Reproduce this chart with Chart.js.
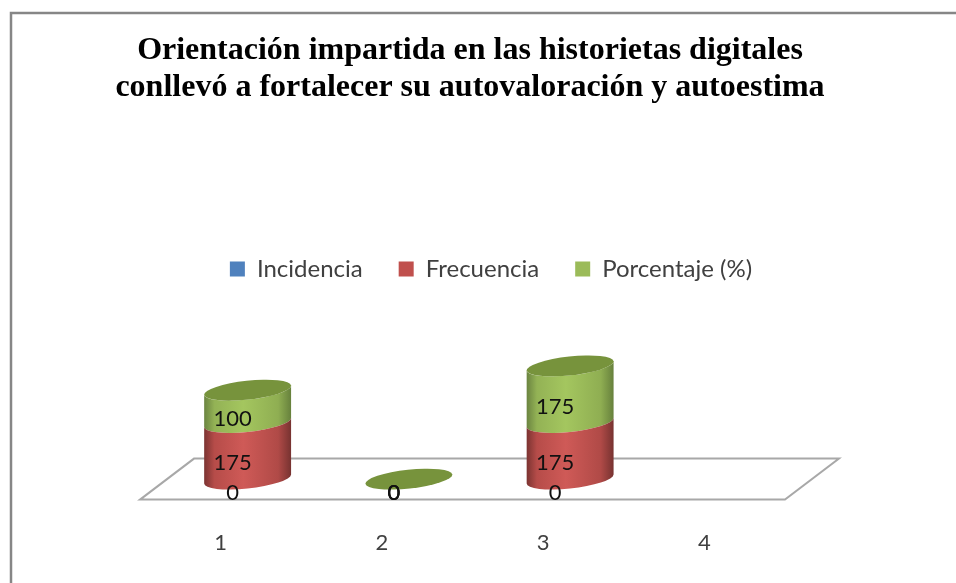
<!DOCTYPE html>
<html><head><meta charset="utf-8">
<style>html,body{margin:0;padding:0;background:#fff;overflow:hidden}canvas{display:block}</style>
<script src="https://cdn.jsdelivr.net/npm/chart.js@4"></script>
</head><body>
<canvas id="c" width="956" height="583"></canvas>
<script>
const categories = ['1','2','3','4'];
const incidencia = [0,0,0,null];
const frecuencia = [175,0,175,null];
const porcentaje = [100,0,175,null];
const titleLines = ['Orientación impartida en las historietas digitales','conllevó a fortalecer su autovaloración y autoestima'];

const DX=54, DY=41, RX=43.7, RY=9.4, TH=-6.2*Math.PI/180;
const T0=Math.atan(-(RY/RX)*Math.tan(TH));
const shades={
 'Frecuencia':['#7a3331','#b64c49','#cf5a57','#b04a47','#763230'],
 'Porcentaje (%)':['#6a8340','#93b255','#a4c65f','#8fae52','#66803c'],
 'Incidencia':['#33557f','#4a7ab4','#5688c4','#4876ad','#30517a']
};
const cyl={
 id:'cyl',
 afterLayout(ch){
   ch.titleBlock.left=0; ch.titleBlock.right=940;
   ch.legend.left+=28.5; ch.legend.right+=28.5;
 },
 beforeDraw(ch){
   const c=ch.ctx; c.save();
   c.fillStyle='#fff'; c.fillRect(0,0,ch.width,ch.height);
   c.strokeStyle='#868686'; c.lineWidth=2.5;
   c.beginPath(); c.moveTo(11,ch.height); c.lineTo(11,13); c.lineTo(ch.width,13); c.stroke();
   c.restore();
 },
 beforeDatasetsDraw(ch){
   const c=ch.ctx,a=ch.chartArea; c.save();
   c.strokeStyle='#a8a8a8'; c.lineWidth=2;
   c.beginPath(); c.moveTo(a.left,a.bottom); c.lineTo(a.left+DX,a.bottom-DY); c.lineTo(a.right+DX,a.bottom-DY); c.lineTo(a.right,a.bottom); c.closePath(); c.stroke();
   c.restore();
 },
 beforeDatasetDraw(ch,args){
   const c=ch.ctx, ds=ch.data.datasets[args.index];
   const els=ch.getDatasetMeta(args.index).data;
   els.forEach((el,i)=>{
     if(ds.data[i]==null) return;
     const cx=el.x+DX/2, yb=el.base-DY/2, yt=el.y-DY/2;
     if(yb-yt>0.5){
       const g=c.createLinearGradient(cx-RX,0,cx+RX,0);
       const s=shades[ds.label];
       g.addColorStop(0,s[0]);g.addColorStop(0.12,s[1]);g.addColorStop(0.45,s[2]);g.addColorStop(0.85,s[3]);g.addColorStop(1,s[4]);
       c.fillStyle=g;
       c.beginPath();
       c.ellipse(cx,yb,RX,RY,TH,T0,Math.PI+T0,false);
       c.ellipse(cx,yt,RX,RY,TH,Math.PI+T0,T0,true);
       c.closePath(); c.fill();
     }
     if(args.index===ch.data.datasets.length-1){
       c.fillStyle='#77933c';
       c.beginPath(); c.ellipse(cx,yt,RX,RY,TH,0,Math.PI*2); c.fill();
     }
   });
   return false;
 },
 afterDatasetsDraw(ch){
   const c=ch.ctx; c.save();
   c.fillStyle='#111'; c.font='22px Lato'; c.textAlign='center'; c.textBaseline='middle';
   ch.data.datasets.forEach((ds,di)=>{
     ch.getDatasetMeta(di).data.forEach((el,i)=>{
       const v=ds.data[i]; if(v==null) return;
       const dy = v===0?-6.5:-8;
       c.fillText(String(v),el.x+12,(el.y+el.base)/2+dy);
     });
   });
   c.restore();
 }
};
new Chart(document.getElementById('c'),{
 type:'bar',
 data:{labels:categories,datasets:[
  {label:'Incidencia',data:incidencia,backgroundColor:'#4f81bd'},
  {label:'Frecuencia',data:frecuencia,backgroundColor:'#c0504d'},
  {label:'Porcentaje (%)',data:porcentaje,backgroundColor:'#9bbb59'}
 ]},
 plugins:[cyl],
 options:{
  responsive:false,animation:false,
  layout:{padding:{left:140,right:171,top:32,bottom:5}},
  datasets:{bar:{categoryPercentage:1,barPercentage:0.547}},
  plugins:{
   title:{display:true,text:titleLines,color:'#000',font:{family:'"Liberation Serif"',size:32,weight:'bold',lineHeight:1.156},padding:{top:0,bottom:115}},
   legend:{display:true,position:'top',labels:{boxWidth:15,boxHeight:15,padding:36,color:'#404040',font:{family:'Lato',size:24}}},
   tooltip:{enabled:false}
  },
  scales:{
   x:{stacked:true,grid:{display:false},border:{display:false},ticks:{padding:22,color:'#404040',font:{family:'Lato',size:22}}},
   y:{stacked:true,display:false,min:0,max:645}
  }
 }
});
</script>
</body></html>
